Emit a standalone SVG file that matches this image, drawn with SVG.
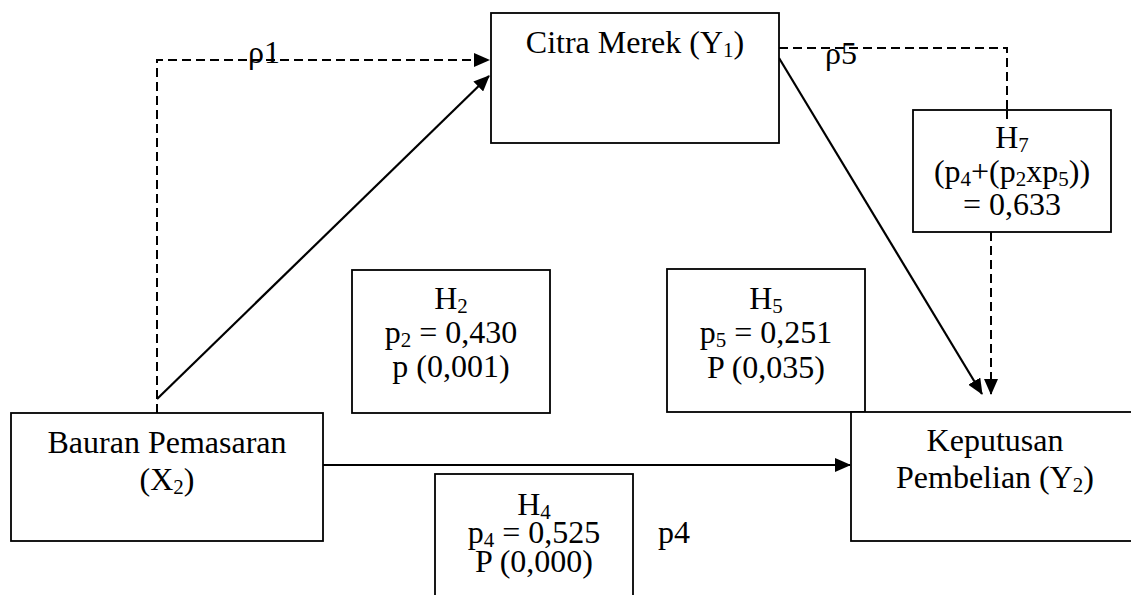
<svg xmlns="http://www.w3.org/2000/svg" width="1131" height="595" viewBox="0 0 1131 595">
<style>
.box{fill:#fff;stroke:#000;stroke-width:1.8}
.t{font-family:"Liberation Serif","Times New Roman",serif;font-size:32px;fill:#000;text-anchor:middle}
.l{font-family:"Liberation Serif","Times New Roman",serif;font-size:32px;fill:#000;text-anchor:start}
.sub{font-size:21px}
.solid{fill:none;stroke:#000;stroke-width:2.2}
.dash{fill:none;stroke:#000;stroke-width:2;stroke-dasharray:9,5}
</style>
<defs>
<marker id="ah" markerUnits="userSpaceOnUse" markerWidth="16" markerHeight="14" refX="15" refY="7" orient="auto">
<path d="M0,0 L16,7 L0,14 Z" fill="#000"/>
</marker>
</defs>
<rect x="0" y="0" width="1131" height="595" fill="#fff"/>
<g id="connectors">
<polyline class="dash" points="157,413 157,60 489,60" marker-end="url(#ah)"/>
<line class="solid" x1="157" y1="399" x2="489" y2="76" marker-end="url(#ah)"/>
<polyline class="dash" points="779,48 1007,48 1007,124"/>
<line class="solid" x1="779" y1="58" x2="982" y2="394" marker-end="url(#ah)"/>
<line class="dash" x1="991" y1="232" x2="991" y2="394" marker-end="url(#ah)"/>
<line class="solid" x1="323" y1="465" x2="850" y2="465" marker-end="url(#ah)"/>
</g>
<g id="labels">
<text class="l" x="248" y="63">ρ1</text>
<text class="l" x="825" y="64">ρ5</text>
<text class="l" x="658" y="543">p4</text>
</g>
<g id="citra">
<rect class="box" x="491" y="13" width="288" height="130"/>
<text class="t" x="635" y="53">Citra Merek (Y<tspan class="sub" dy="4">1</tspan><tspan dy="-4">)</tspan></text>
</g>
<g id="h7">
<rect class="box" x="913" y="110" width="198" height="122"/>
<line class="dash" x1="1007" y1="110" x2="1007" y2="124"/>
<text class="t" x="1012" y="148">H<tspan class="sub" dy="4">7</tspan></text>
<text class="t" x="1012" y="182">(p<tspan class="sub" dy="4">4</tspan><tspan dy="-4">+(p</tspan><tspan class="sub" dy="4">2</tspan><tspan dy="-4">xp</tspan><tspan class="sub" dy="4">5</tspan><tspan dy="-4">))</tspan></text>
<text class="t" x="1012" y="215">= 0,633</text>
</g>
<g id="h2">
<rect class="box" x="352" y="270" width="198" height="143"/>
<text class="t" x="451" y="309">H<tspan class="sub" dy="4">2</tspan></text>
<text class="t" x="451" y="343">p<tspan class="sub" dy="4">2</tspan><tspan dy="-4"> = 0,430</tspan></text>
<text class="t" x="451" y="377">p (0,001)</text>
</g>
<g id="h5">
<rect class="box" x="667" y="269" width="198" height="143"/>
<text class="t" x="766" y="309">H<tspan class="sub" dy="4">5</tspan></text>
<text class="t" x="766" y="343">p<tspan class="sub" dy="4">5</tspan><tspan dy="-4"> = 0,251</tspan></text>
<text class="t" x="766" y="378">P (0,035)</text>
</g>
<g id="bauran">
<rect class="box" x="11" y="413" width="312" height="128"/>
<text class="t" x="167" y="453">Bauran Pemasaran</text>
<text class="t" x="167" y="490">(X<tspan class="sub" dy="4">2</tspan><tspan dy="-4">)</tspan></text>
</g>
<g id="keputusan">
<rect class="box" x="851" y="412" width="300" height="129"/>
<text class="t" x="995" y="451">Keputusan</text>
<text class="t" x="995" y="488">Pembelian (Y<tspan class="sub" dy="4">2</tspan><tspan dy="-4">)</tspan></text>
</g>
<g id="h4">
<rect class="box" x="435" y="474" width="198" height="140"/>
<text class="t" x="534" y="515">H<tspan class="sub" dy="4">4</tspan></text>
<text class="t" x="534" y="543">p<tspan class="sub" dy="4">4</tspan><tspan dy="-4"> = 0,525</tspan></text>
<text class="t" x="534" y="572">P (0,000)</text>
</g>
</svg>
